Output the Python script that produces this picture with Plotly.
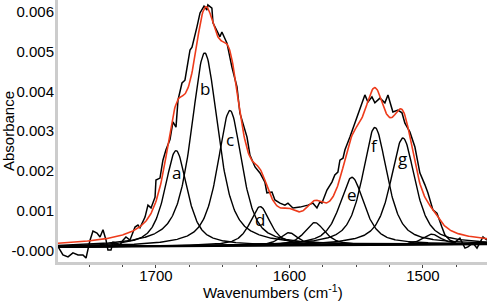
import numpy as np
import plotly.graph_objects as go

# Measured spectrum (black, noisy)
wavenumber = [1773.4, 1769.7, 1765.9, 1762.2, 1758.4, 1754.7, 1752.4, 1749.4, 1747.2, 1744.2,
              1741.9, 1739.7, 1737.4, 1736.0, 1733.7, 1732.2, 1730.0, 1727.0, 1724.7, 1722.5,
              1719.5, 1715.7, 1713.5, 1712.0, 1708.2, 1706.0, 1703.7, 1700.7, 1700.0, 1697.0,
              1694.8, 1692.5, 1689.5, 1687.3, 1685.0, 1683.5, 1680.5, 1678.3, 1674.5, 1673.0,
              1669.3, 1667.0, 1664.0, 1661.8, 1661.1, 1658.1, 1657.3, 1654.3, 1652.1, 1650.6,
              1646.8, 1643.1, 1639.3, 1637.1, 1631.8, 1629.6, 1625.8, 1622.1, 1618.4, 1616.9,
              1614.6, 1613.1, 1610.9, 1607.1, 1603.4, 1601.1, 1597.4, 1592.1, 1586.2, 1582.4,
              1579.4, 1577.2, 1575.7, 1571.9, 1568.2, 1566.0, 1563.7, 1562.2, 1559.9, 1558.4,
              1554.7, 1550.9, 1547.2, 1543.5, 1541.2, 1538.2, 1536.0, 1532.2, 1528.5, 1526.2,
              1524.7, 1522.5, 1518.7, 1515.7, 1513.5, 1509.8, 1506.0, 1502.3, 1498.5, 1496.3,
              1492.5, 1489.5, 1485.8, 1483.5, 1479.8, 1476.0, 1472.3, 1468.5, 1466.3, 1462.5,
              1459.5, 1457.3, 1455.0, 1452.0]
absorbance = [0.00010, -0.00011, -0.00016, -0.00006, -0.00011, -0.00011, -0.00019, 0.00026, 0.00049, 0.00044,
              0.00034, 0.00052, 0.00026, 0.00001, 0.00001, 0.00021, 0.00019, 0.00014, 0.00026, 0.00034,
              0.00026, 0.00059, 0.00064, 0.00057, 0.00084, 0.00114, 0.00107, 0.00134, 0.00177, 0.00182,
              0.00227, 0.00253, 0.00279, 0.00323, 0.00310, 0.00378, 0.00421, 0.00428, 0.00504, 0.00511,
              0.00562, 0.00597, 0.00614, 0.00604, 0.00617, 0.00609, 0.00572, 0.00554, 0.00537, 0.00549,
              0.00521, 0.00461, 0.00411, 0.00345, 0.00285, 0.00240, 0.00210, 0.00195, 0.00172, 0.00145,
              0.00147, 0.00147, 0.00127, 0.00119, 0.00114, 0.00119, 0.00107, 0.00109, 0.00114, 0.00119,
              0.00107, 0.00122, 0.00119, 0.00152, 0.00172, 0.00190, 0.00197, 0.00227, 0.00232, 0.00253,
              0.00285, 0.00320, 0.00353, 0.00391, 0.00373, 0.00386, 0.00371, 0.00383, 0.00371, 0.00391,
              0.00373, 0.00348, 0.00353, 0.00346, 0.00320, 0.00298, 0.00260, 0.00195, 0.00165, 0.00145,
              0.00102, 0.00094, 0.00059, 0.00039, 0.00026, 0.00021, 0.00031, 0.00006, 0.00009, 0.00019,
              0.00006, 0.00021, 0.00034, 0.00026]

# Fitted pseudo-Voigt components (center, height above baseline, half width)
peak_labels = ["a", "b", "c", "d", "", "", "e", "f", "g", ""]
peak_centers = [1685.0, 1663.5, 1644.6, 1622.0, 1600.4, 1581.0, 1553.2, 1536.0, 1515.0, 1493.3]
peak_heights = [0.0024, 0.00485, 0.0034, 0.00098, 0.00032, 0.00057, 0.0017, 0.00295, 0.00268, 0.00026]
peak_hwhm = [10.0, 12.0, 11.0, 9.0, 8.0, 9.0, 11.0, 11.0, 11.0, 8.0]
lorentz_fraction = 0.7
label_y = [0.00197, 0.00408, 0.0028, 0.00077, None, None, 0.0014, 0.00265, 0.00232, None]

# Linear baseline endpoints
baseline_x = [1773.4, 1452.0]
baseline_y = [0.00009, 0.00016]

x_range = [1773.4, 1452.0]
y_range = [-0.000289, 0.006295]
y_ticks = [0.0, 0.001, 0.002, 0.003, 0.004, 0.005, 0.006]
y_ticktext = ["-0.000", "0.001", "0.002", "0.003", "0.004", "0.005", "0.006"]
x_ticks = [1700, 1600, 1500]

grid = np.linspace(x_range[0], x_range[1], 700)
base = np.interp(grid, baseline_x[::-1], baseline_y[::-1])

fig = go.Figure()
fig.add_trace(go.Scatter(x=baseline_x, y=baseline_y, mode="lines",
                         line=dict(color="black", width=2), hoverinfo="skip"))
total = base.copy()
for c, h, w in zip(peak_centers, peak_heights, peak_hwhm):
    u2 = ((grid - c) / w) ** 2
    comp = h * (lorentz_fraction / (1 + u2) + (1 - lorentz_fraction) * np.exp(-np.log(2) * u2))
    total = total + comp
    fig.add_trace(go.Scatter(x=grid, y=base + comp, mode="lines",
                             line=dict(color="black", width=1.4), hoverinfo="skip"))

fig.add_trace(go.Scatter(x=wavenumber, y=absorbance, mode="lines",
                         line=dict(color="black", width=1.5)))
fig.add_trace(go.Scatter(x=grid, y=total, mode="lines",
                         line=dict(color="#ee3b1b", width=1.6)))

for lab, c, ly in zip(peak_labels, peak_centers, label_y):
    if lab:
        fig.add_annotation(x=c, y=ly, text=lab, showarrow=False,
                           font=dict(family="Open Sans", size=17, color="black"))

fig.add_annotation(xref="paper", yref="paper", x=0.5, y=-0.113, yanchor="middle",
                   text="Wavenumbers (cm<sup>-1</sup>)", showarrow=False,
                   font=dict(size=15, color="black"))

fig.update_layout(
    width=500, height=302,
    margin=dict(l=58, r=13, t=0, b=40),
    paper_bgcolor="white", plot_bgcolor="white",
    showlegend=False,
    font=dict(family="Liberation Sans, Arial", size=15, color="black"),
    xaxis=dict(range=x_range, tickvals=x_ticks, showgrid=False, zeroline=False,
               showline=True, linecolor="#cccccc", linewidth=3,
               ticks="outside", ticklen=3, tickcolor="#444", tickwidth=1,
               ticklabelstandoff=-5,
               minor=dict(dtick=25, ticks="outside", ticklen=2, tickcolor="#444")),
    yaxis=dict(range=y_range, tickvals=y_ticks, ticktext=y_ticktext,
               showgrid=False, zeroline=False, showline=True,
               linecolor="#cccccc", linewidth=3, ticks="",
               ticklabelstandoff=-2,
               title=dict(text="Absorbance", standoff=0, font=dict(size=15))),
)
fig.write_html("out.html", config={"displayModeBar": False},
               post_script="document.body.style.margin='0';document.body.style.padding='0';")
